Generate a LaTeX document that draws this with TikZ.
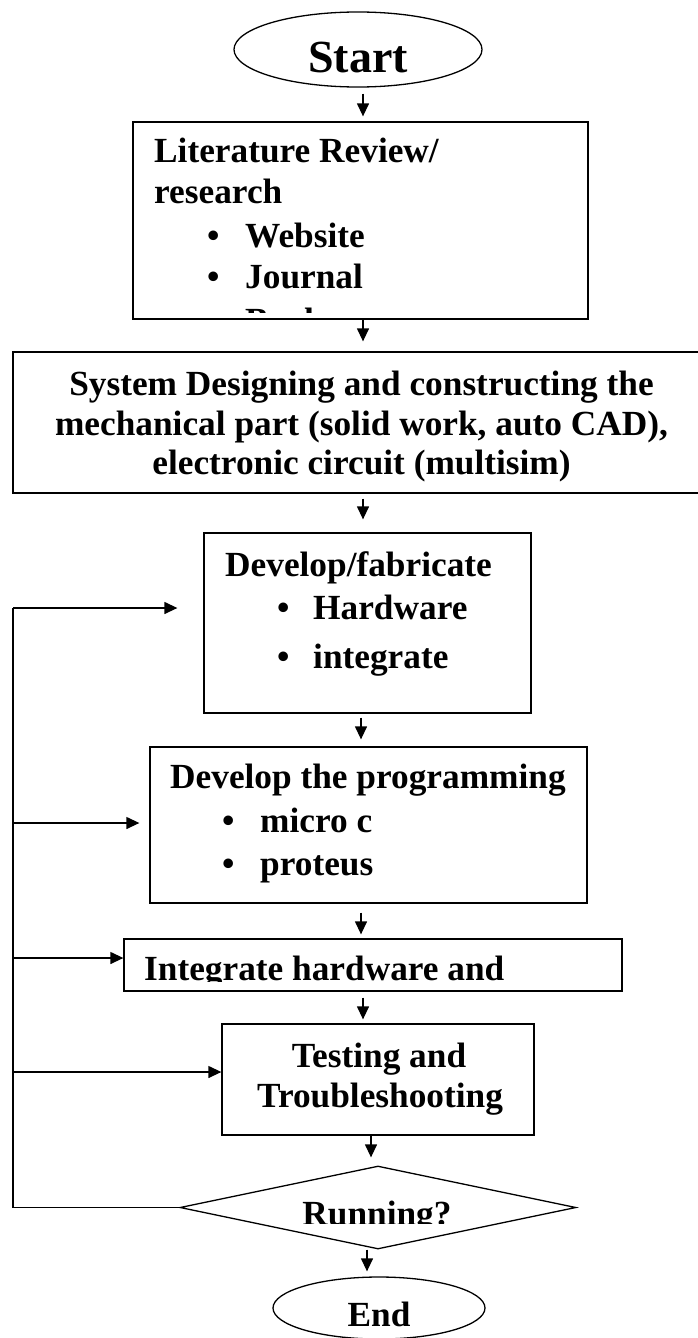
\documentclass[tikz,border=0pt]{standalone}
\usepackage{fontspec}
\setmainfont{Liberation Serif}
\usetikzlibrary{arrows.meta,shapes.geometric}
\begin{document}
\begin{tikzpicture}[x=1pt,y=-1pt,
  box/.style={draw,line width=1.3pt,rectangle,inner sep=0pt},
  term/.style={draw,line width=1.3pt,ellipse,inner sep=0pt},
  txt/.style={anchor=base west,inner sep=0pt,font=\fontsize{35.3}{40}\selectfont\bfseries},
  ctxt/.style={txt,anchor=base},
  arr/.style={line width=1.3pt,-{Triangle[length=13pt,width=12pt]}},
  link/.style={line width=1.3pt}]
\useasboundingbox (0,0) rectangle (697,1338);

% outlines of the steps
\node[term,minimum width=248pt,minimum height=75pt] (start) at (358,49.5) {};
\node[box,minimum width=455pt,minimum height=197pt] (lit) at (360.5,220.5) {};
\node[box,minimum width=689pt,minimum height=141pt] (sys) at (357.5,422.5) {};
\node[box,minimum width=327pt,minimum height=180pt] (dev) at (367.5,623) {};
\node[box,minimum width=437pt,minimum height=156pt] (prog) at (368.5,825) {};
\node[box,minimum width=498pt,minimum height=52pt] (integ) at (373,965) {};
\node[box,minimum width=312pt,minimum height=111pt] (test) at (378,1079.5) {};
\node[draw,line width=1.3pt,diamond,inner sep=0pt,minimum width=396pt,minimum height=83pt] (dia) at (378,1207.5) {};
\node[term,minimum width=212pt,minimum height=62pt] (stop) at (379,1308) {};

% texts
\node[ctxt,font=\fontsize{46}{50}\selectfont\bfseries] (tstart) at (358,73) {Start};

\node[txt] (l1) at (154,162) {Literature Review/};
\node[txt] (l2) at (154,203) {research};
\node[txt] (lb1) at (207,247) {\textbullet};
\node[txt] (l3) at (245,247) {Website};
\node[txt] (lb2) at (207,288) {\textbullet};
\node[txt] (l4) at (245,288) {Journal};
\begin{scope}
  \clip (133,122) rectangle (588,312);
  \node[txt] (lb3) at (207,332) {\textbullet};
  \node[txt] (l5) at (245,332) {Books};
\end{scope}

\node[ctxt] (s1) at (361.5,395) {System Designing and constructing the};
\node[ctxt] (s2) at (361.5,435) {mechanical part (solid work, auto CAD),};
\node[ctxt] (s3) at (361.5,474) {electronic circuit (multisim)};

\node[txt] (d1) at (225,576) {Develop/fabricate};
\node[txt] (db1) at (277,619) {\textbullet};
\node[txt] (d2) at (313,619) {Hardware};
\node[txt] (db2) at (277,668) {\textbullet};
\node[txt] (d3) at (313,668) {integrate};

\node[txt] (p1) at (170,788) {Develop the programming};
\node[txt] (pb1) at (222,832) {\textbullet};
\node[txt] (p2) at (260,832) {micro c};
\node[txt] (pb2) at (222,875) {\textbullet};
\node[txt] (p3) at (260,875) {proteus};

\begin{scope}
  \clip (124,939) rectangle (622,981);
  \node[txt] (i1) at (144,980) {Integrate hardware and};
\end{scope}

\node[ctxt] (t1) at (379,1067) {Testing and};
\node[ctxt] (t2) at (380,1107) {Troubleshooting};

\begin{scope}
  \clip (180,1166) rectangle (576,1223);
  \node[ctxt] (r1) at (377,1225) {Running?};
\end{scope}

\node[ctxt] (e1) at (379,1326) {End};

% columns of the downward connectors
\coordinate (cA) at (363,0);
\coordinate (cB) at (361,0);
\coordinate (cC) at (371,0);
\coordinate (cD) at (367,0);

\draw[arr,shorten <=6pt,shorten >=5pt] (start.south -| cA) -- (lit.north -| cA);
\draw[arr,shorten >=10pt] (lit.south -| cA) -- (sys.north -| cA);
\draw[arr,shorten <=5pt,shorten >=13pt] (sys.south -| cA) -- (dev.north -| cA);
\draw[arr,shorten <=4pt,shorten >=7pt] (dev.south -| cB) -- (prog.north -| cB);
\draw[arr,shorten <=9pt,shorten >=4pt] (prog.south -| cB) -- (integ.north -| cB);
\draw[arr,shorten <=6pt,shorten >=4pt] (integ.south -| cA) -- (test.north -| cA);
\draw[arr,shorten >=8pt] (test.south -| cC) -- (dia.north -| cC);
\draw[arr,shorten >=5pt] (dia.south -| cD) -- (stop.north -| cD);

% feedback loop on the left
\coordinate (j1) at (13,608);
\coordinate (j2) at (13,823);
\coordinate (j3) at (13,958);
\coordinate (j4) at (13,1072);
\coordinate (j0) at (13,1204);
\draw[link] (dia.west) -- (dia.west -| j0) -- (j1);
\draw[arr,shorten >=26pt] (j1) -- (j1 -| dev.west);
\draw[arr,shorten >=10pt] (j2) -- (j2 -| prog.west);
\draw[arr] (j3) -- (j3 -| integ.west);
\draw[arr] (j4) -- (j4 -| test.west);
\end{tikzpicture}
\end{document}
